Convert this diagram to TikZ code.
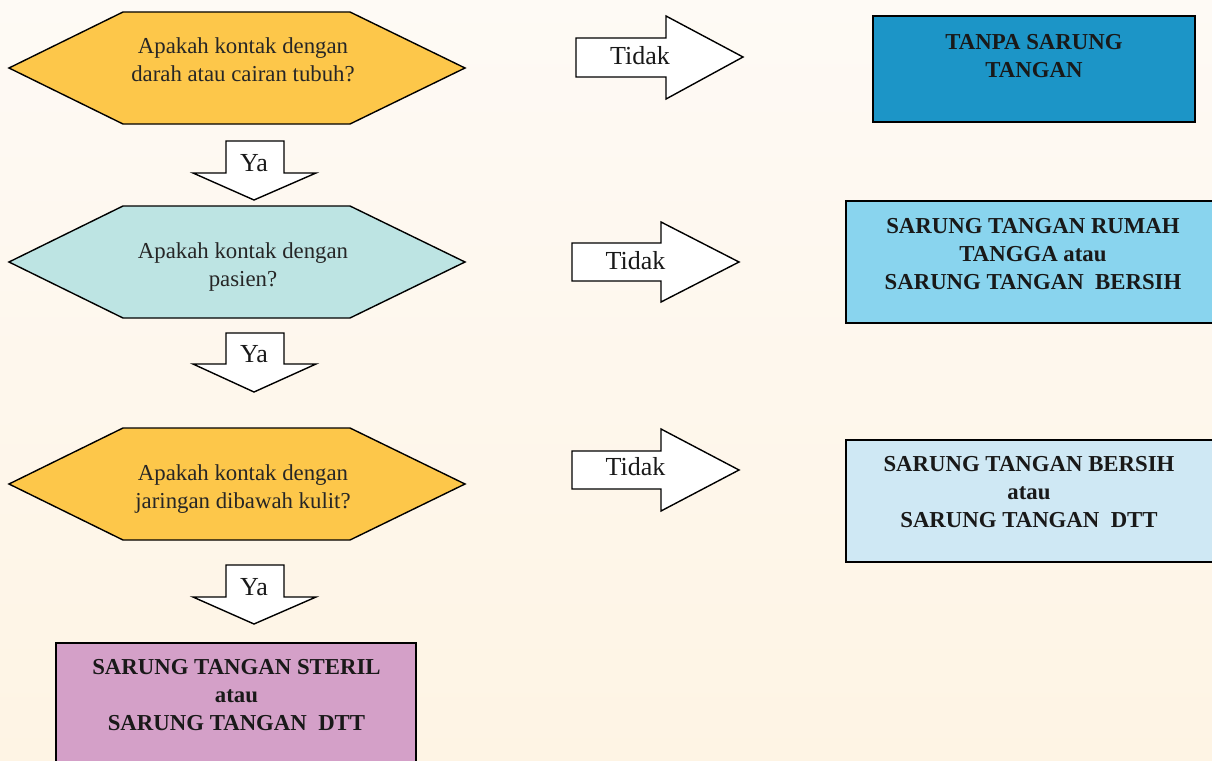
\documentclass[tikz,border=0pt]{standalone}
\usepackage{fontspec}
\setmainfont{Liberation Serif}
\definecolor{bgtop}{RGB}{254,250,245}
\definecolor{bgbot}{RGB}{254,244,228}
\definecolor{hexyellow}{RGB}{253,199,74}
\definecolor{hexteal}{RGB}{189,228,227}
\definecolor{boxdark}{RGB}{28,149,199}
\definecolor{boxsky}{RGB}{137,212,238}
\definecolor{boxpale}{RGB}{207,232,244}
\definecolor{boxpink}{RGB}{212,160,200}
\tikzset{
  hexshape/.style={draw=black, line width=1.4pt, line join=miter},
  blockarrow/.style={draw=black, fill=white, line width=1.4pt, line join=miter},
  resbox/.style={draw=black, line width=1.6pt},
  qtext/.style={anchor=north, inner sep=0pt, align=center, text=black!85,
    font=\fontsize{22.8}{27.6}\selectfont},
  rtext/.style={anchor=north, inner sep=0pt, align=center, text=black!90,
    font=\bfseries\fontsize{22.8}{27.8}\selectfont},
  atext/.style={anchor=base, inner sep=0pt, text=black!90,
    font=\fontsize{26}{30}\selectfont},
}
\begin{document}
\begin{tikzpicture}[x=1pt,y=-1pt]
\useasboundingbox (0,0) rectangle (1212,760);
\shade[top color=bgtop, bottom color=bgbot] (0,0) rectangle (1212,760);

% hexagons
\filldraw[hexshape, fill=hexyellow] (9,68) -- (123,12) -- (350,12) -- (465,68) -- (350,124) -- (123,124) -- cycle;
\node[qtext] (q1) at (243,37.5) {Apakah kontak dengan\\darah atau cairan tubuh?};

\filldraw[hexshape, fill=hexteal] (9,262) -- (123,206) -- (350,206) -- (465,262) -- (350,318) -- (123,318) -- cycle;
\node[qtext] (q2) at (243,242.5) {Apakah kontak dengan\\pasien?};

\filldraw[hexshape, fill=hexyellow] (9,484) -- (123,428) -- (350,428) -- (465,484) -- (350,540) -- (123,540) -- cycle;
\node[qtext] (q3) at (243,464.5) {Apakah kontak dengan\\jaringan dibawah kulit?};

% Ya arrows
\draw[blockarrow] (226,141) -- (284,141) -- (284,173) -- (316,173) -- (254,200) -- (193,173) -- (226,173) -- cycle;
\node[atext] (ya1) at (254,171) {Ya};
\draw[blockarrow] (226,333) -- (284,333) -- (284,364) -- (316,364) -- (254,392) -- (193,364) -- (226,364) -- cycle;
\node[atext] (ya2) at (254,362) {Ya};
\draw[blockarrow] (226,565) -- (284,565) -- (284,597) -- (316,597) -- (254,624) -- (193,597) -- (226,597) -- cycle;
\node[atext] (ya3) at (254,595) {Ya};

% Tidak arrows
\draw[blockarrow] (576,38) -- (666,38) -- (666,16) -- (743,57) -- (666,99) -- (666,77) -- (576,77) -- cycle;
\node[atext] (no1) at (640,65) {Tidak};
\draw[blockarrow] (572,243) -- (661,243) -- (661,222) -- (739,262) -- (661,302) -- (661,281) -- (572,281) -- cycle;
\node[atext] (no2) at (635.5,269) {Tidak};
\draw[blockarrow] (572,451) -- (661,451) -- (661,429) -- (739,470) -- (661,511) -- (661,489) -- (572,489) -- cycle;
\node[atext] (no3) at (635.5,475) {Tidak};

% result boxes
\filldraw[resbox, fill=boxdark] (873,16) rectangle (1195,122);
\node[rtext] (r1) at (1034,34.5) {TANPA SARUNG\\TANGAN};

\filldraw[resbox, fill=boxsky] (846,201) rectangle (1222,323);
\node[rtext] (r2) at (1033,218.5) {SARUNG TANGAN RUMAH\\TANGGA atau\\SARUNG TANGAN\ \ BERSIH};

\filldraw[resbox, fill=boxpale] (846,440) rectangle (1222,562);
\node[rtext] (r3) at (1029,456.5) {SARUNG TANGAN BERSIH\\atau\\SARUNG TANGAN\ \ DTT};

\filldraw[resbox, fill=boxpink] (56,643) rectangle (416,775);
\node[rtext] (r4) at (236.5,659.5) {SARUNG TANGAN STERIL\\atau\\SARUNG TANGAN\ \ DTT};
\end{tikzpicture}
\end{document}
